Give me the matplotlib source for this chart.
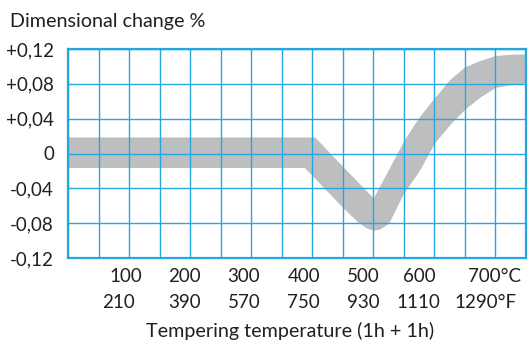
import matplotlib
matplotlib.use('Agg')
import matplotlib.pyplot as plt
import numpy as np

# band: temperature (deg C) vs dimensional change (%)
upper_temp = [0, 404, 450, 500, 525, 550, 575, 600, 625, 650, 675, 700, 725, 750]
upper_val = [0.019, 0.019, -0.015, -0.051, -0.018, 0.015, 0.042, 0.064, 0.085,
             0.0996, 0.107, 0.1126, 0.114, 0.1144]
lower_temp = [0, 387, 450, 475, 490, 500, 510, 525, 550, 575, 600, 625, 650, 675, 700, 725, 750]
lower_val = [-0.016, -0.016, -0.062, -0.079, -0.086, -0.088, -0.087, -0.080, -0.045, -0.020,
             0.012, 0.033, 0.051, 0.065, 0.076, 0.079, 0.081]

celsius_labels = ['100', '200', '300', '400', '500', '600', '700°C']
fahrenheit_labels = ['210', '390', '570', '750', '930', '1110', '1290°F']
y_ticks = [-0.12, -0.08, -0.04, 0, 0.04, 0.08, 0.12]
y_labels = ['-0,12', '-0,08', '-0,04', '0', '+0,04', '+0,08', '+0,12']

# label centres (deg C), the original is set slightly left of the grid lines
celsius_pos = [94, 191, 288, 386, 484, 576, 698]
fahrenheit_pos = [82, 191, 288, 386, 484, 574, 683]

blue = '#25A6DF'
band_grey = '#BDBEC0'
text_col = '#231F20'

plt.rcParams['font.family'] = ['Lato', 'DejaVu Sans']

fig = plt.figure(figsize=(5.32, 3.47), dpi=100)
ax = fig.add_axes([68 / 532, 1 - 258 / 347, (526 - 68) / 532, (258 - 49) / 347])

# common grid of the band for fill_between
temps = np.array(sorted(set(upper_temp) | set(lower_temp)), dtype=float)
up = np.interp(temps, upper_temp, upper_val)
lo = np.interp(temps, lower_temp, lower_val)
ax.fill_between(temps, lo, up, color=band_grey, lw=0, zorder=1)

ax.set_xlim(0, 750)
ax.set_ylim(-0.12, 0.12)
ax.set_xticks(np.arange(0, 751, 50))
ax.set_yticks(y_ticks)
ax.set_yticklabels(y_labels)
ax.tick_params(axis='x', length=0, labelbottom=False)
ax.tick_params(axis='y', length=0, labelsize=13.5, colors=text_col, pad=10)
ax.grid(True, color=blue, lw=1.0, zorder=2)
ax.set_axisbelow(False)
for s in ax.spines.values():
    s.set_color(blue)
    s.set_linewidth(1.6)
    s.set_zorder(3)

for i in range(len(celsius_labels)):
    ax.annotate(celsius_labels[i], (celsius_pos[i], 0), xycoords=('data', 'axes fraction'),
                xytext=(0, -19), textcoords='offset pixels', ha='center', va='center',
                fontsize=13.5, color=text_col)
    ax.annotate(fahrenheit_labels[i], (fahrenheit_pos[i], 0), xycoords=('data', 'axes fraction'),
                xytext=(0, -45), textcoords='offset pixels', ha='center', va='center',
                fontsize=13.5, color=text_col)

fig.text(290 / 532, 1 - 331 / 347, 'Tempering temperature (1h + 1h)', ha='center', va='center',
         fontsize=14.2, color=text_col)
fig.text(10 / 532, 1 - 22 / 347, 'Dimensional change %', ha='left', va='center',
         fontsize=14.2, color=text_col)

fig.savefig('out.png', dpi=100)
